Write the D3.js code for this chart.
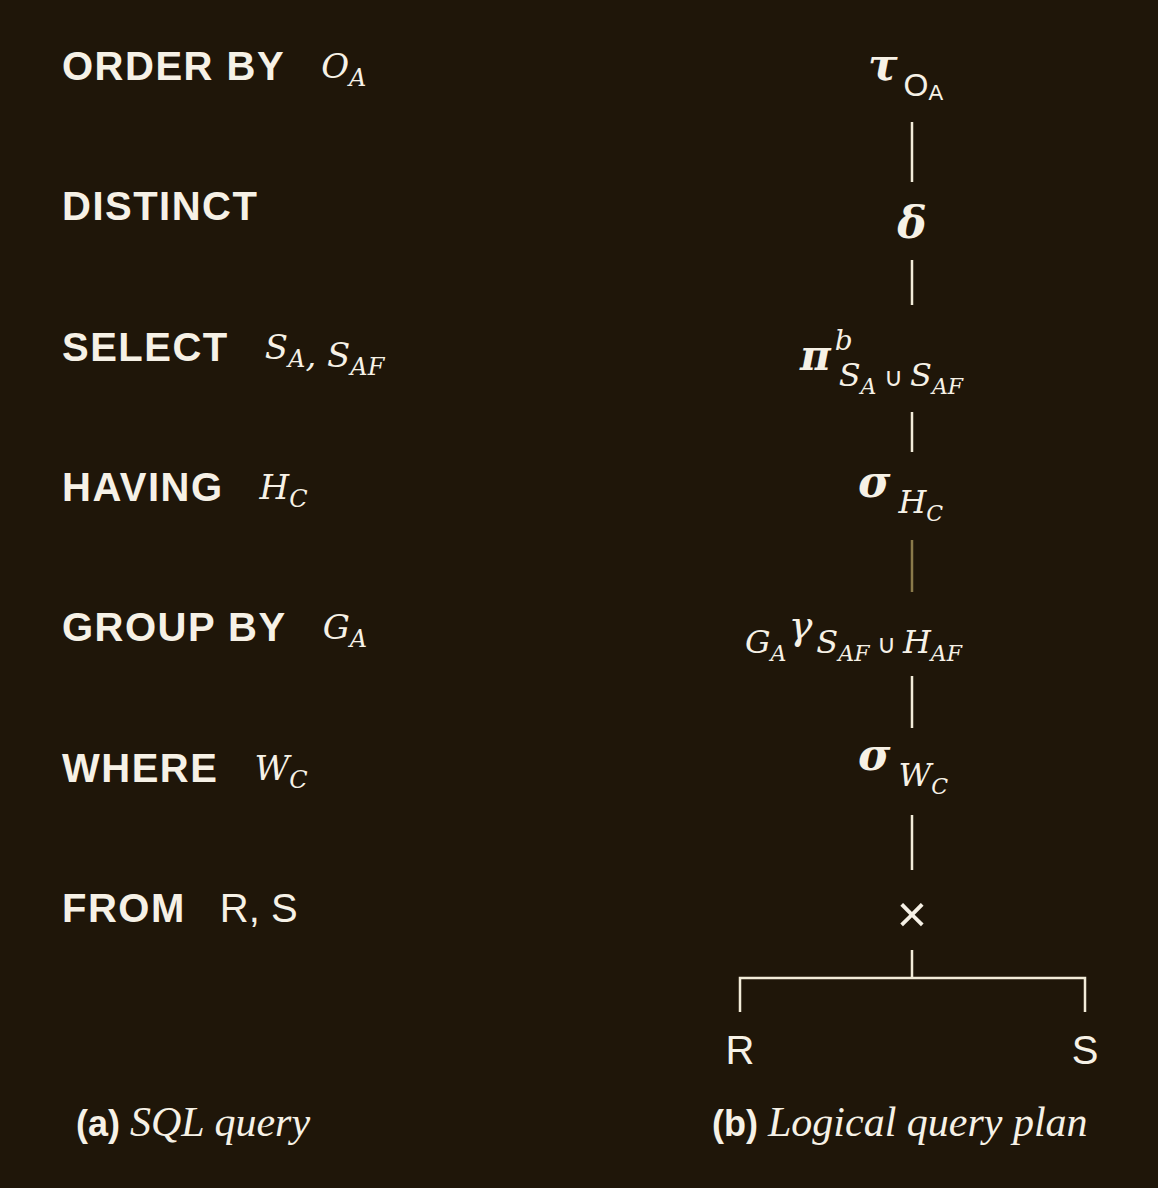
<!DOCTYPE html>
<html><head><meta charset="utf-8">
<script src="https://cdn.jsdelivr.net/npm/d3@7"></script>
<style>
body{margin:0;background:#1f1609;}
text{fill:#f6f1e6;}
.kw{font-family:"Liberation Sans",Arial,sans-serif;font-weight:bold;font-size:40px;letter-spacing:1.5px;}
.m{font-family:"DejaVu Serif",serif;font-style:italic;}
.g{font-family:"DejaVu Serif",serif;font-weight:bold;font-style:italic;}
.s{font-family:"Liberation Sans",Arial,sans-serif;}
</style></head><body>
<svg id="c" width="1158" height="1188"></svg>
<script>
// SQL clauses (left column), each with its argument as [text, subscript]
var clauses = ["ORDER BY", "DISTINCT", "SELECT", "HAVING", "GROUP BY", "WHERE", "FROM"];
var clauseArgs = [
  [["O","A"]],
  [],
  [["S","A"],[", S","AF"]],
  [["H","C"]],
  [["G","A"]],
  [["W","C"]],
  [["R, S",""]]
];
// plan operators (right column)
var planOps = ["τ", "δ", "π", "σ", "γ", "σ", "×"];
var leaves = ["R", "S"];
var captions = [["(a) ","SQL query"],["(b) ","Logical query plan"]];

var svg = d3.select("#c");
svg.append("rect").attr("width",1158).attr("height",1188).attr("fill","#1f1609");

var rowY = d3.scalePoint().domain(d3.range(clauses.length)).range([80, 922]);
var planY = [80, 225, 360, 497, 640, 770, 912];
var cx = 912;

// left column
clauses.forEach(function(c, i) {
  var t = svg.append("text").attr("x", 62).attr("y", rowY(i)).attr("class","kw").text(c);
  var w = t.node().getComputedTextLength();
  var a = svg.append("text").attr("x", 62 + w + (i===6 ? 34 : 36)).attr("y", rowY(i) - 2);
  clauseArgs[i].forEach(function(p){
    if (i === 6) { a.attr("class","s").attr("font-size",40).attr("y",rowY(i)).text(p[0]); return; }
    a.append("tspan").attr("class","m").attr("font-size",34).text(p[0]);
    a.append("tspan").attr("class","m").attr("font-size",24).attr("dy",8).text(p[1]);
    a.append("tspan").attr("dy",-8).text("");
  });
});

// connectors
var lineCol = "#f2ecd9";
var gaps = [[122,182],[260,305],[412,452],[540,592],[676,728],[815,870],[950,978]];
gaps.forEach(function(g, i){
  svg.append("line").attr("x1",cx).attr("x2",cx).attr("y1",g[0]).attr("y2",g[1])
    .attr("stroke", i===3 ? "#8a7a4a" : lineCol).attr("stroke-width",2.5);
});
var lx = d3.scalePoint().domain(leaves).range([740, 1085]);
svg.append("path").attr("fill","none").attr("stroke",lineCol).attr("stroke-width",2.5)
  .attr("d","M"+lx("R")+",1012V978H"+lx("S")+"V1012");
leaves.forEach(function(l){
  svg.append("text").attr("class","s").attr("font-size",40).attr("text-anchor","middle")
    .attr("x",lx(l)).attr("y",1064).text(l);
});

// tau
var t = svg.append("text").attr("x",868).attr("y",planY[0]);
t.append("tspan").attr("class","g").attr("font-size",44).text(planOps[0]);
t.append("tspan").attr("class","s").attr("font-size",32).attr("dx",6).attr("dy",16).text("O");
t.append("tspan").attr("class","s").attr("font-size",22).attr("dy",4).text("A");
// delta
svg.append("text").attr("class","g").attr("font-size",44).attr("text-anchor","middle")
  .attr("x",cx).attr("y",planY[1]+13).text(planOps[1]);
// pi
t = svg.append("text").attr("x",800).attr("y",planY[2]+10);
t.append("tspan").attr("class","g").attr("font-size",42).text(planOps[2]);
t.append("tspan").attr("class","m").attr("font-size",28).attr("dx",4).attr("dy",-20).text("b");
t.append("tspan").attr("class","m").attr("font-size",32).attr("dx",-14).attr("dy",36).text("S");
t.append("tspan").attr("class","m").attr("font-size",22).attr("dy",8).text("A");
t.append("tspan").attr("class","s").attr("font-size",26).attr("dy",-8).text(" ∪ ");
t.append("tspan").attr("class","m").attr("font-size",32).text("S");
t.append("tspan").attr("class","m").attr("font-size",22).attr("dy",8).text("AF");
// sigma
function sigma(y, a, b) {
  var t = svg.append("text").attr("x",858).attr("y",y);
  t.append("tspan").attr("class","g").attr("font-size",44).text("σ");
  t.append("tspan").attr("class","m").attr("font-size",32).attr("dx",8).attr("dy",16).text(a);
  t.append("tspan").attr("class","m").attr("font-size",22).attr("dy",8).text(b);
}
sigma(planY[3], "H", "C");
// gamma
t = svg.append("text").attr("x",745).attr("y",planY[4]+13);
t.append("tspan").attr("class","m").attr("font-size",32).text("G");
t.append("tspan").attr("class","m").attr("font-size",22).attr("dy",8).text("A");
t.append("tspan").attr("class","m").attr("font-size",40).attr("dx",2).attr("dy",-22).text(planOps[4]);
t.append("tspan").attr("class","m").attr("font-size",32).attr("dx",4).attr("dy",14).text("S");
t.append("tspan").attr("class","m").attr("font-size",22).attr("dy",8).text("AF");
t.append("tspan").attr("class","s").attr("font-size",26).attr("dy",-8).text(" ∪ ");
t.append("tspan").attr("class","m").attr("font-size",32).text("H");
t.append("tspan").attr("class","m").attr("font-size",22).attr("dy",8).text("AF");
sigma(planY[5], "W", "C");
// cross
svg.append("text").attr("class","s").attr("font-size",52).attr("text-anchor","middle")
  .attr("x",cx).attr("y",planY[6]+20).text(planOps[6]);

// captions
[[76,0],[712,1]].forEach(function(p){
  var c = captions[p[1]];
  var t = svg.append("text").attr("x",p[0]).attr("y",1136);
  t.append("tspan").attr("class","s").attr("font-weight","bold").attr("font-size",36).text(c[0]);
  t.append("tspan").attr("font-family","Liberation Serif,serif").attr("font-style","italic").attr("font-size",42).text(c[1]);
});
</script>
</body></html>
